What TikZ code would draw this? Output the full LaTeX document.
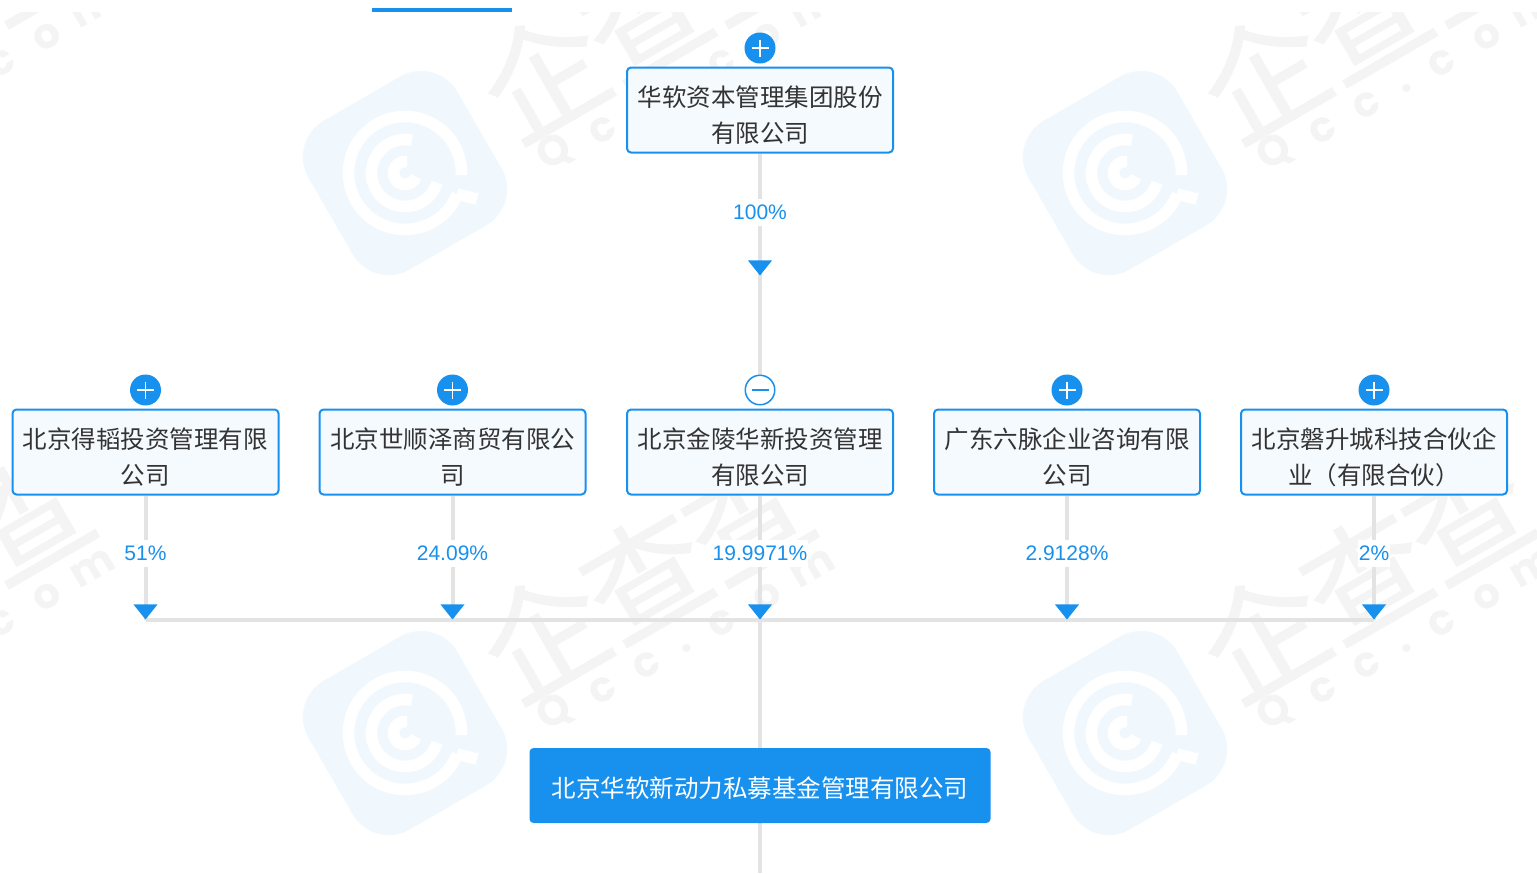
\documentclass[tikz,border=0pt]{standalone}
\usepackage{fontspec}
\usepackage{tikz}
\usetikzlibrary{shapes.geometric,backgrounds}
\setmainfont{Liberation Sans}
\newfontfamily\cjk{Noto Sans CJK SC}
\newfontfamily\cjkmark[FakeBold=1]{Noto Sans CJK SC}
\newfontfamily\markfont{Poppins}
\definecolor{qblue}{HTML}{1890EE}
\definecolor{qpale}{HTML}{F5FAFE}
\definecolor{qline}{HTML}{E3E3E3}
\definecolor{qmark}{HTML}{F4F4F4}
\definecolor{qlogo}{HTML}{F0F8FE}
\definecolor{qtext}{HTML}{333333}
\newcommand{\pad}{\rule{0pt}{31pt}}
\tikzset{
  holder/.style={draw=qblue,fill=qpale,line width=2pt,rounded corners=4pt,minimum width=266pt,
    minimum height=85pt,inner sep=0pt,align=center,text=qtext,font=\cjk\fontsize{24.5}{36}\selectfont},
  target/.style={fill=qblue,rounded corners=4pt,minimum width=461pt,minimum height=75pt,
    inner sep=0pt,text=white,font=\cjk\fontsize{24.5}{36}\selectfont,
    execute at begin node={\rule{0pt}{26pt}}},
  share/.style={fill=white,text=qblue,inner sep=1pt,minimum height=27pt,font=\fontsize{21}{24}\selectfont},
  tipdown/.style={isosceles triangle,isosceles triangle stretches,shape border rotate=-90,fill=qblue,
    minimum width=24pt,minimum height=15pt,inner sep=0pt,anchor=apex},
  plusdot/.style={circle,fill=qblue,minimum size=31pt,inner sep=0pt,path picture={
    \draw[white,line width=1.5pt] (path picture bounding box.center) +(-8.5,0) -- +(8.5,0)
      +(0,-8.5) -- +(0,8.5);}},
  minusdot/.style={circle,draw=qblue,line width=1.5pt,fill=white,minimum size=29.5pt,inner sep=0pt,path picture={
    \draw[qblue,line width=1.5pt] (path picture bounding box.center) +(-8.5,0) -- +(8.5,0);}},
  link/.style={draw=qline,line width=4pt},
  swirl/.style={white,line width=11.5pt}
}
\begin{document}
\begin{tikzpicture}[x=1pt,y=-1pt]
  \useasboundingbox (0,0) rectangle (1537,873);

  % tab mark
  \fill[qblue] (372,8) rectangle (512,12);

  % companies
  \node[holder] (top) at (760,110) {\pad 华软资本管理集团股份\\有限公司};
  \node[holder] (h0) at (145.5,452) {\pad 北京得韬投资管理有限\\公司};
  \node[holder] (h1) at (452.5,452) {\pad 北京世顺泽商贸有限公\\司};
  \node[holder] (h2) at (760,452) {\pad 北京金陵华新投资管理\\有限公司};
  \node[holder] (h3) at (1067,452) {\pad 广东六脉企业咨询有限\\公司};
  \node[holder] (h4) at (1374,452) {\pad 北京磐升城科技合伙企\\业（有限合伙）};
  \node[target] (fund) at (760,785.5) {北京华软新动力私募基金管理有限公司};

  % arrow tips
  \node[tipdown] (t) at (760,276) {};
  \node[tipdown] (t0) at (145.5,620) {};
  \node[tipdown] (t1) at (452.5,620) {};
  \node[tipdown] (t2) at (760,620) {};
  \node[tipdown] (t3) at (1067,620) {};
  \node[tipdown] (t4) at (1374,620) {};
  \coordinate (tail) at (760,873);

  % expand buttons
  \node[plusdot] (b) at (760,48) {};
  \node[plusdot] (b0) at (145.5,390) {};
  \node[plusdot] (b1) at (452.5,390) {};
  \node[minusdot] (b2) at (760,390) {};
  \node[plusdot] (b3) at (1067,390) {};
  \node[plusdot] (b4) at (1374,390) {};

  % shares
  \node[share] (s) at (760,212) {100\%};
  \node[share] (s0) at (145.5,553.5) {51\%};
  \node[share] (s1) at (452.5,553.5) {24.09\%};
  \node[share] (s2) at (760,553.5) {19.9971\%};
  \node[share] (s3) at (1067,553.5) {2.9128\%};
  \node[share] (s4) at (1374,553.5) {2\%};

  \begin{scope}[on background layer]
    % watermark
    \begin{scope}
      \clip (0,12) rectangle (1537,873);
      \foreach \dx in {-720,0,720}
        \foreach \dy in {0,560} {
          \foreach \ch/\xx/\yy in {企/543/74,查/645/15,查/747/-44}
            \node[rotate=30,text=qmark,font=\cjkmark\fontsize{122}{122}\selectfont] at (\xx+\dx,\yy+\dy) {\ch};
          \foreach \ch/\xx/\yy in {Q/555/152,c/603/130,c/647/105,./687/88,c/722/63,o/767/37,m/813/8}
            \node[rotate=30,text=qmark,font=\markfont\bfseries\fontsize{42}{42}\selectfont] at (\xx+\dx,\yy+\dy) {\ch};
        }
      \foreach \xx in {405,1125}
        \foreach \yy in {173,733} {
          \node[rotate=30,fill=qlogo,rounded corners=42pt,minimum size=172pt] at (\xx,\yy) {};
          \begin{scope}[shift={(\xx,\yy)},x=1pt,y=1pt]
            \draw[swirl] (-2:56.5) arc[start angle=-2,end angle=338,radius=56.5];
            \draw[swirl] (52,-21) -- (72,-26);
            \draw[swirl] (78:33.5) arc[start angle=78,end angle=343,radius=33.5];
            \draw[swirl] (79:11.5) arc[start angle=79,end angle=342,radius=11.5];
          \end{scope}
        }
    \end{scope}

    % connectors
    \foreach \from/\to in {h0/t0.apex,h1/t1.apex,h2/t2.apex,h3/t3.apex,h4/t4.apex,top/b2,t0.apex/t4.apex,t2.apex/fund,fund/tail}
      \draw[link] (\from) -- (\to);
  \end{scope}
\end{tikzpicture}
\end{document}
